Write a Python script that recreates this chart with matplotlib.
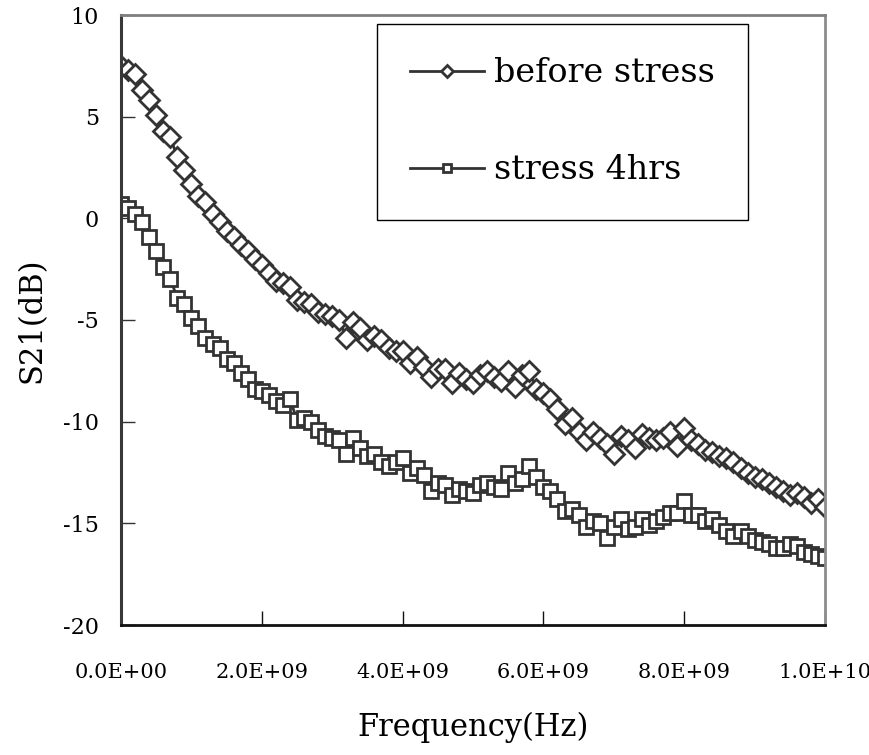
import matplotlib
matplotlib.use("Agg")
import matplotlib.pyplot as plt
import numpy as np

freq_ghz = [round(0.1 * i, 1) for i in range(101)]

before_stress = [
    7.5, 7.3, 7.1, 6.3, 5.8, 5.1, 4.3, 4.0, 3.0, 2.4,
    1.7, 1.1, 0.8, 0.2, -0.2, -0.6, -0.9, -1.3, -1.6, -2.0,
    -2.3, -2.7, -3.1, -3.2, -3.4, -4.0, -4.1, -4.2, -4.6, -4.7,
    -4.8, -5.0, -5.9, -5.1, -5.4, -6.0, -5.8, -6.0, -6.4, -6.5,
    -6.5, -7.1, -6.8, -7.3, -7.8, -7.4, -7.4, -8.1, -7.6, -7.9,
    -8.1, -7.7, -7.5, -7.8, -8.0, -7.5, -8.3, -7.7, -7.5, -8.4,
    -8.6, -8.9, -9.4, -10.1, -9.8, -10.5, -10.9, -10.5, -10.8, -11.1,
    -11.6, -10.7, -10.9, -11.3, -10.6, -10.8, -10.9, -10.8, -10.5, -11.2,
    -10.3, -10.9, -11.1, -11.4, -11.5, -11.7, -11.8, -12.0, -12.3, -12.5,
    -12.7, -12.8, -13.0, -13.2, -13.4, -13.6, -13.5, -13.7, -14.0, -13.8,
    -14.2,
]

stress_4hrs = [
    0.7, 0.5, 0.2, -0.2, -0.9, -1.6, -2.4, -3.0, -3.9, -4.2,
    -4.9, -5.3, -5.9, -6.2, -6.4, -6.9, -7.1, -7.6, -7.9, -8.4,
    -8.5, -8.7, -9.0, -9.2, -8.9, -9.9, -9.8, -10.0, -10.4, -10.7,
    -10.8, -10.9, -11.6, -10.8, -11.3, -11.7, -11.6, -12.0, -12.2, -12.0,
    -11.8, -12.5, -12.3, -12.6, -13.4, -13.0, -13.1, -13.6, -13.3, -13.4,
    -13.5, -13.1, -13.0, -13.2, -13.3, -12.5, -13.0, -12.8, -12.2, -12.7,
    -13.2, -13.4, -13.8, -14.4, -14.3, -14.6, -15.2, -14.9, -15.0, -15.7,
    -15.2, -14.8, -15.3, -15.2, -14.8, -15.1, -14.9, -14.7, -14.5, -14.5,
    -13.9, -14.6, -14.6, -14.9, -14.8, -15.1, -15.4, -15.6, -15.4, -15.6,
    -15.8, -15.9, -16.0, -16.2, -16.2, -16.0, -16.1, -16.4, -16.5, -16.6,
    -16.7,
]

series_labels = ["before stress", "stress 4hrs"]
x_ticks = [0, 2e9, 4e9, 6e9, 8e9, 1e10]
x_tick_labels = ["0.0E+00", "2.0E+09", "4.0E+09", "6.0E+09", "8.0E+09", "1.0E+10"]
y_ticks = [-20, -15, -10, -5, 0, 5, 10]

plt.rcParams["font.family"] = ["DejaVu Serif"]
plt.rcParams["axes.unicode_minus"] = False

freq_hz = np.array(freq_ghz) * 1e9

fig = plt.figure(figsize=(8.7, 7.55), dpi=100)
ax = fig.add_axes([121 / 870, 130 / 755, 704 / 870, 610 / 755])

c = "#333333"
ax.plot(freq_hz, before_stress, color=c, lw=2, marker="D", markersize=10,
        markerfacecolor="white", markeredgecolor=c, markeredgewidth=2,
        label=series_labels[0])
ax.plot(freq_hz, stress_4hrs, color=c, lw=2, marker="s", markersize=9.5,
        markerfacecolor="white", markeredgecolor=c, markeredgewidth=2,
        label=series_labels[1])

ax.set_xlim(0, 1e10)
ax.set_ylim(-20, 10)
ax.set_xticks(x_ticks)
ax.set_xticklabels(x_tick_labels)
ax.set_yticks(y_ticks)

ax.tick_params(axis="x", direction="in", length=10, width=1, color="#111111",
               labelsize=15, pad=27, top=False)
ax.tick_params(axis="y", direction="in", length=10, width=1, color="#333333",
               labelsize=16, pad=16, right=False)

ax.spines["left"].set_color("#383838")
ax.spines["left"].set_linewidth(2.2)
ax.spines["bottom"].set_color("#111111")
ax.spines["bottom"].set_linewidth(2)
ax.spines["top"].set_color("#808080")
ax.spines["top"].set_linewidth(2)
ax.spines["right"].set_color("#8c8c8c")
ax.spines["right"].set_linewidth(2)

ax.set_xlabel("Frequency(Hz)", fontsize=22, labelpad=22)
ax.set_ylabel("S21(dB)", fontsize=22, labelpad=11)

leg = ax.legend(loc="upper left", bbox_to_anchor=(377 / 870, 1 - 24 / 755),
                bbox_transform=fig.transFigure, borderaxespad=0,
                fontsize=24, markerscale=0.65, handlelength=2.2,
                handletextpad=0.3, labelspacing=1.95, borderpad=1.0,
                fancybox=False, shadow=False, framealpha=1)
leg.get_frame().set_edgecolor("black")
leg.get_frame().set_linewidth(1)

fig.savefig("out.png", dpi=100, facecolor="white")
